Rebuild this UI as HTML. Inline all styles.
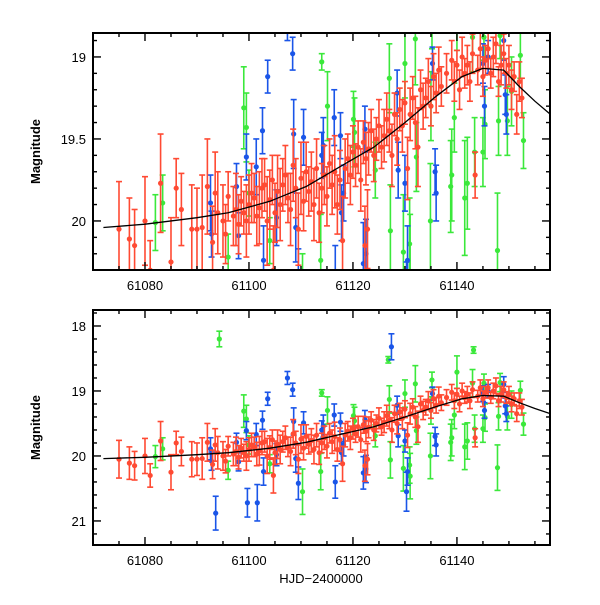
<!DOCTYPE html>
<html><head><meta charset="utf-8"><style>
html,body{margin:0;padding:0;background:#fff}
svg text{font-family:"Liberation Sans",sans-serif;fill:#000}
</style></head><body>
<svg id="chart" width="600" height="600" viewBox="0 0 600 600" xmlns="http://www.w3.org/2000/svg">
<defs>
<clipPath id="clipTop"><rect x="93" y="33" width="457" height="237"/></clipPath>
<clipPath id="clipBot"><rect x="93" y="310" width="457" height="235"/></clipPath>
</defs>
<g id="layer"></g>
</svg>
<script>
// ---- data: [day, magnitude, error] ----
const redDays=[61075,61077,61078,61080,61081,61083,61085,61086,61087,61089,61090,61091,61092,61093,61093.5,61094,61095,61095.5,61096,61097,61097.5,61098,61098.5,61099,61099.5,61100,61100.5,61101,61101.5,61102,61102.5,61103,61103.5,61104,61104.5,61104.7,61105,61105.5,61106,61106.5,61107,61107.5,61108,61108.5,61109,61109.5,61110,61110.5,61111,61111.5,61112,61112.5,61113,61113.5,61114,61114.5,61115,61115.5,61116,61116.5,61117,61117.5,61118,61118.5,61119,61119.5,61120,61120.5,61121,61121.5,61122,61122.3,61122.5,61122.8,61123,61123.5,61124,61124.5,61125,61125.5,61126,61126.5,61127,61127.5,61128,61128.5,61129,61129.5,61130,61130.5,61131,61131.5,61132,61132.5,61133,61133.5,61134,61134.5,61135,61135.5,61136,61136.5,61137,61138,61139,61139.5,61140,61140.5,61141,61141.5,61142,61142.5,61143,61143.5,61144,61144.5,61145,61145.5,61146,61146.5,61147,61147.5,61148,61148.5,61149,61149.5,61150,61150.5,61151,61151.5,61152,61152.5];
const redMags=[20.05,20.11,20.15,20.00,20.30,19.77,20.25,19.80,19.93,20.05,20.05,20.04,19.79,20.13,19.83,19.95,20.00,20.08,19.85,19.97,19.93,20.02,19.88,19.95,20.00,19.90,19.83,19.86,19.97,19.92,19.80,19.78,20.00,19.87,19.75,20.30,19.95,19.82,19.90,19.78,19.72,19.86,19.93,19.66,19.80,20.05,19.74,19.88,19.70,19.82,19.76,19.90,19.68,19.95,19.80,19.72,19.85,19.65,19.78,19.70,19.90,19.75,20.12,19.68,19.62,19.72,19.58,19.66,19.55,19.75,19.52,20.15,19.62,20.05,19.56,19.45,19.60,19.50,19.42,19.55,19.48,19.38,19.45,19.60,19.35,19.50,19.32,19.42,19.28,19.68,19.35,19.25,19.40,19.55,19.20,19.30,19.25,19.15,19.30,19.12,19.22,19.08,19.18,19.10,19.02,19.15,19.05,19.20,19.00,19.10,19.05,19.15,18.98,19.72,19.08,18.95,19.12,19.02,18.95,19.10,19.00,18.92,19.15,19.05,18.98,19.10,19.05,19.20,19.12,19.35,19.15,19.25];
const redErrs=[.29,.25,.22,.27,.18,.30,.27,.18,.22,.27,.25,.32,.29,.22,.25,.25,.22,.18,.15,.18,.22,.18,.15,.13,.22,.18,.18,.15,.18,.22,.18,.16,.27,.18,.15,.27,.18,.22,.22,.16,.18,.15,.22,.22,.18,.22,.22,.18,.18,.15,.18,.22,.18,.18,.15,.18,.18,.15,.18,.22,.18,.18,.27,.18,.15,.18,.16,.13,.16,.19,.13,.24,.16,.24,.16,.13,.16,.13,.16,.13,.16,.16,.13,.19,.13,.16,.13,.16,.13,.19,.16,.13,.16,.24,.12,.14,.12,.14,.12,.14,.12,.14,.12,.12,.12,.12,.09,.12,.12,.09,.12,.12,.12,.14,.09,.12,.12,.09,.12,.09,.12,.12,.09,.12,.12,.09,.12,.12,.09,.12,.12,.12];

const greenDays=[61082,61083.4,61094.3,61096,61099,61099.5,61100,61104,61110.3,61114,61115.1,61113.8,61120.1,61120.3,61124.3,61126.8,61127,61127.2,61130,61129.7,61130.9,61131,61132,61132.2,61134.9,61135,61135.2,61138.8,61139,61139.5,61140,61141.5,61142,61143,61143.2,61143.4,61145,61145.2,61145.4,61147.8,61148,61148.3,61149.7,61150.5,61152.2,61152.8];
const greenMags=[20.01,19.89,18.20,20.22,19.31,19.43,19.83,20.12,20.55,19.03,19.30,20.24,19.38,19.46,19.69,18.52,19.13,20.06,19.04,20.19,20.14,20.31,18.89,19.61,20.00,19.30,18.83,19.79,19.72,19.37,18.71,19.86,19.77,18.88,18.37,19.58,19.58,18.88,19.41,20.18,19.39,18.87,19.39,19.21,18.99,19.51];
const greenErrs=[.17,.17,.12,.14,.25,.21,.14,.14,.35,.05,.21,.28,.17,.21,.17,.05,.21,.28,.21,.35,.28,.35,.28,.21,.35,.21,.12,.28,.28,.21,.25,.35,.28,.21,.05,.21,.21,.14,.21,.35,.21,.14,.21,.21,.14,.17];

const blueDays=[61092.6,61092.8,61093.6,61097.6,61098,61099.5,61099.7,61101.4,61101.6,61102.6,61102.8,61103.6,61105.3,61107.4,61108.4,61108.6,61109,61109.5,61110.5,61114,61114.3,61116.4,61116.6,61117.6,61117.8,61118.2,61122,61122.3,61122.5,61128.5,61127.4,61128.7,61130,61130.3,61130.5,61135.3,61135.8,61136,61145,61145.3,61146,61149,61149.3,61149.5];
const blueMags=[19.89,20.08,20.88,19.79,20.09,19.61,20.72,19.67,20.72,19.45,20.24,19.12,19.98,18.80,18.98,19.47,20.04,20.42,19.49,19.60,19.54,19.37,20.40,19.48,19.95,19.83,20.26,19.44,20.20,19.22,18.32,19.69,19.77,20.55,20.24,19.04,19.70,19.83,19.04,19.30,19.00,18.90,19.23,19.35];
const blueErrs=[.17,.14,.26,.14,.14,.14,.22,.17,.28,.14,.21,.10,.17,.10,.10,.21,.21,.25,.17,.14,.17,.17,.25,.14,.17,.17,.25,.14,.21,.14,.20,.17,.17,.30,.21,.10,.14,.17,.12,.12,.10,.12,.12,.12];

const modelDays=[61072,61080,61090,61096,61104,61111,61118,61124,61130,61136,61141,61145,61149,61152,61155,61158];
const modelMags=[20.04,20.02,19.98,19.95,19.88,19.79,19.66,19.55,19.40,19.24,19.12,19.07,19.08,19.18,19.27,19.35];

const xTickLabels=["61080","61100","61120","61140"];
const topYTickLabels=["19","19.5","20"];
const botYTickLabels=["18","19","20","21"];

// ---- scales ----
const X0=93,X1=550,D0=61070,D1=61157.9;
function xs(d){return X0+(d-D0)*(X1-X0)/(D1-D0);}
const panels=[
 {name:'top',top:33,bot:270,m0:18.854,m1:20.299,major:0.5,minor:0.1,labels:topYTickLabels,clip:'clipTop'},
 {name:'bottom',top:310,bot:545,m0:17.754,m1:21.37,major:1,minor:0.2,labels:botYTickLabels,clip:'clipBot'}
];
const NS='http://www.w3.org/2000/svg';
const layer=document.getElementById('layer');
function mk(tag,attrs,parent){const e=document.createElementNS(NS,tag);for(const k in attrs)e.setAttribute(k,attrs[k]);(parent||layer).appendChild(e);return e;}

panels.forEach(p=>{
 const ys=m=>p.top+(m-p.m0)*(p.bot-p.top)/(p.m1-p.m0);
 const g=mk('g',{});
 
 
 const data=mk('g',{'clip-path':'url(#'+p.clip+')'},g);
 
 
 function series(days,mags,errs,color,name){
  const sg=mk('g',{stroke:color,fill:color,'stroke-width':1.6},data);
  
  
  for(let i=0;i<days.length;i++){
   const x=xs(days[i]),y=ys(mags[i]),ya=ys(mags[i]-errs[i]),yb=ys(mags[i]+errs[i]);
   const pt=mk('g',{},sg);
   
   
   mk('line',{x1:x,x2:x,y1:ya,y2:yb},pt);
   mk('line',{x1:x-3,x2:x+3,y1:ya,y2:ya},pt);
   mk('line',{x1:x-3,x2:x+3,y1:yb,y2:yb},pt);
   mk('circle',{cx:x,cy:y,r:2.6,stroke:'none'},pt);
  }
 }
 series(greenDays,greenMags,greenErrs,'#3be83b','green');
 series(blueDays,blueMags,blueErrs,'#1a55e8','blue');
 series(redDays,redMags,redErrs,'#ff4a33','red');
 let dstr='';
 modelDays.forEach((d,i)=>{dstr+=(i?'L':'M')+xs(d).toFixed(1)+' '+ys(modelMags[i]).toFixed(1);});
 const mp=mk('path',{d:dstr,fill:'none',stroke:'#000','stroke-width':1.3},data);
 
 
 const fr=mk('rect',{x:X0,y:p.top,width:X1-X0,height:p.bot-p.top,fill:'none',stroke:'#000','stroke-width':2},g);
 
 
 const tg=mk('g',{stroke:'#000','stroke-width':1.4},g);
 for(let d=61070;d<=61157;d+=5){
  const x=xs(d),L=(d%20===0)?8:4;
  mk('line',{x1:x,x2:x,y1:p.bot,y2:p.bot-L},tg);
  mk('line',{x1:x,x2:x,y1:p.top,y2:p.top+L},tg);
 }
 for(let m=Math.ceil(p.m0/p.minor-1e-6)*p.minor;m<=p.m1;m+=p.minor){
  const y=ys(m);const isMaj=Math.abs(m/p.major-Math.round(m/p.major))<1e-6;const L=isMaj?8:4;
  mk('line',{x1:X0,x2:X0+L,y1:y,y2:y},tg);
  mk('line',{x1:X1,x2:X1-L,y1:y,y2:y},tg);
 }
 xTickLabels.forEach(s=>{
  const t=mk('text',{x:xs(+s),y:p.bot+20,'text-anchor':'middle','font-size':13},g);
  t.textContent=s;
  
  
 });
 p.labels.forEach(s=>{
  const t=mk('text',{x:86,y:ys(+s)+5,'text-anchor':'end','font-size':13},g);
  t.textContent=s;
  
  
 });
 const yl=mk('text',{x:0,y:0,'text-anchor':'middle','font-size':13,'font-weight':'bold',transform:'translate(40,'+((p.top+p.bot)/2)+') rotate(-90)'},g);
 yl.textContent='Magnitude';
 
 
});
const xt=mk('text',{x:321,y:583,'text-anchor':'middle','font-size':13});
xt.textContent='HJD\u22122400000';


</script>
</body></html>
